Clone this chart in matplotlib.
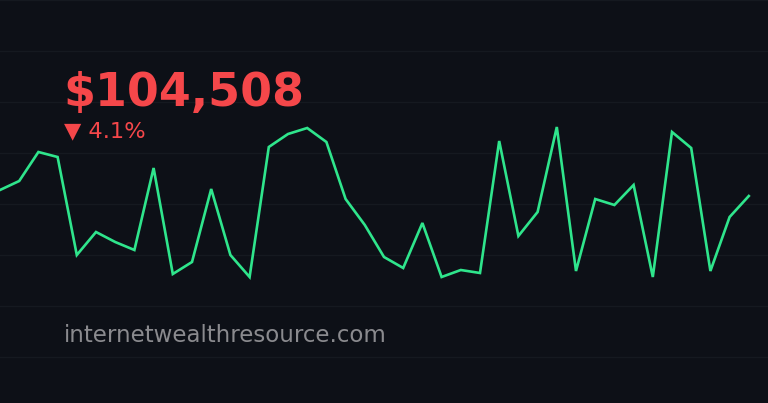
import numpy as np
import matplotlib
matplotlib.use("Agg")
import matplotlib.pyplot as plt

# price line values (chart units)
values = [213, 222, 251, 246, 148, 171, 161, 153, 235, 129,
          141, 214, 148, 126, 256, 269, 275, 261, 204, 178,
          146, 135, 180, 126, 133, 130, 262, 167, 191, 276,
          132, 204, 198, 218, 126, 271, 255, 132, 186, 207]
x = np.arange(len(values))

price_label = "$104,508"
change_label = "\u25bc 4.1%"
site_label = "internetwealthresource.com"

bg = "#0d1017"
green = "#2fe58c"
red = "#f5474a"

fig = plt.figure(figsize=(7.68, 4.03), dpi=100, facecolor=bg)
ax = fig.add_axes([0, 0, 1, 1])
ax.set_facecolor(bg)

ax.plot(x, values, color=green, linewidth=1.9, solid_joinstyle="miter")

ax.set_xlim(0, 40)
ax.set_ylim(0, 403)
# faint horizontal grid
ax.set_yticks(np.arange(46, 404, 51))
ax.grid(axis="y", color="#151920", linewidth=1)
ax.tick_params(left=False, bottom=False, labelleft=False, labelbottom=False)
for s in ax.spines.values():
    s.set_visible(False)

fig.text(0.083, 0.737, price_label, color=red, fontsize=33,
         fontweight="bold", family="DejaVu Sans")
fig.text(0.083, 0.66, change_label, color=red, fontsize=16.2,
         family="DejaVu Sans")
fig.text(0.083, 0.152, site_label, color="#8a8a8e", fontsize=16.5,
         family="DejaVu Sans")

fig.savefig("out.png", dpi=100, facecolor=bg)
